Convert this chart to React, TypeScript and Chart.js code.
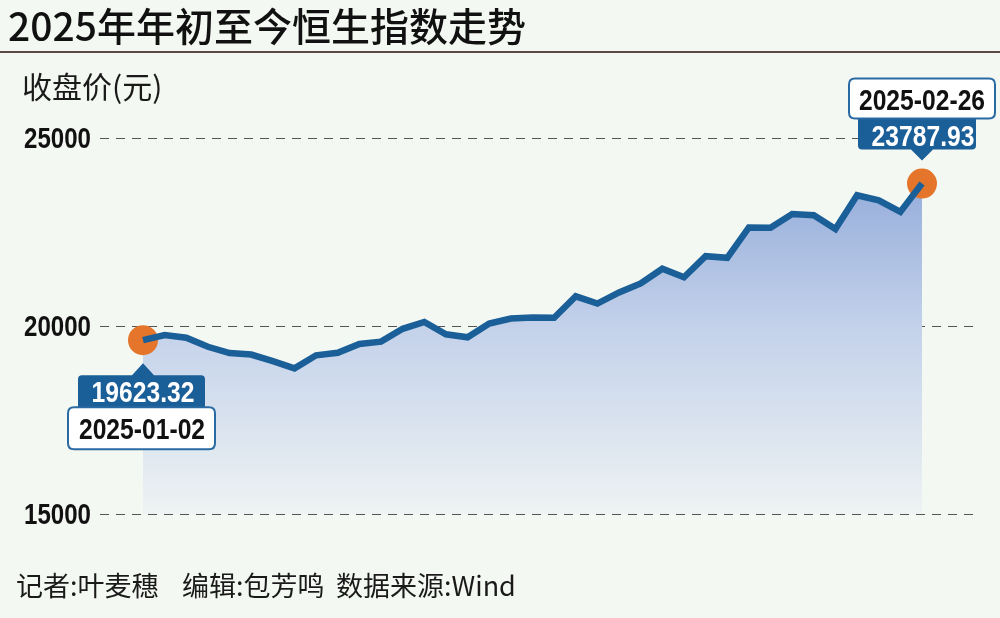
import React, { useEffect, useRef } from "react";
import { Chart, registerables } from "chart.js";

Chart.register(...registerables);

const dates = [
  "2025-01-02", "2025-01-03", "2025-01-06", "2025-01-07", "2025-01-08", "2025-01-09", "2025-01-10",
  "2025-01-13", "2025-01-14", "2025-01-15", "2025-01-16", "2025-01-17",
  "2025-01-20", "2025-01-21", "2025-01-22", "2025-01-23", "2025-01-24",
  "2025-01-27", "2025-01-28",
  "2025-02-03", "2025-02-04", "2025-02-05", "2025-02-06", "2025-02-07",
  "2025-02-10", "2025-02-11", "2025-02-12", "2025-02-13", "2025-02-14",
  "2025-02-17", "2025-02-18", "2025-02-19", "2025-02-20", "2025-02-21",
  "2025-02-24", "2025-02-25", "2025-02-26",
];

const closes = [
  19623.32, 19760.27, 19688.29, 19447.58, 19279.84, 19240.89, 19064.29,
  18874.14, 19219.78, 19286.07, 19522.89, 19584.06,
  19925.81, 20106.55, 19778.77, 19700.56, 20066.19,
  20197.77, 20225.11,
  20217.26, 20789.96, 20597.09, 20891.62, 21133.54,
  21521.98, 21294.86, 21857.92, 21814.37, 22620.33,
  22616.23, 22976.81, 22944.24, 22576.98, 23477.92,
  23341.61, 23034.02, 23787.93,
];

const yTicks = [15000, 20000, 25000];
const titleText = "2025年年初至今恒生指数走势";
const yAxisTitle = "收盘价(元)";
const footerParts = ["记者:叶麦穗", "编辑:包芳鸣", "数据来源:Wind"];

const CJK = '"Noto Sans CJK SC", "Noto Sans", sans-serif';
const NUM = '"Liberation Sans", Arial, sans-serif';
const BG = "#f4f8f2";
const BLUE = "#1b5f98";
const ORANGE = "#e4752b";
const NARROW = 0.85;

function roundRectPath(c: CanvasRenderingContext2D, x: number, y: number, w: number, h: number, r: number) {
  c.beginPath();
  c.moveTo(x + r, y);
  c.lineTo(x + w - r, y);
  c.quadraticCurveTo(x + w, y, x + w, y + r);
  c.lineTo(x + w, y + h - r);
  c.quadraticCurveTo(x + w, y + h, x + w - r, y + h);
  c.lineTo(x + r, y + h);
  c.quadraticCurveTo(x, y + h, x, y + h - r);
  c.lineTo(x, y + r);
  c.quadraticCurveTo(x, y, x + r, y);
  c.closePath();
}

function narrowText(c: CanvasRenderingContext2D, text: string, x: number, y: number, align: CanvasTextAlign, sx = NARROW) {
  c.save();
  c.translate(x, y);
  c.scale(sx, 1);
  c.textAlign = align;
  c.fillText(text, 0, 0);
  c.restore();
}

const decorPlugin = {
  id: "decor",
  beforeDraw(chart: any) {
    const c: CanvasRenderingContext2D = chart.ctx;
    const yScale = chart.scales.y;
    c.save();
    c.fillStyle = BG;
    c.fillRect(0, 0, chart.width, chart.height);

    // title
    c.fillStyle = "#111";
    c.textBaseline = "alphabetic";
    c.textAlign = "left";
    c.font = `500 39px ${CJK}`;
    c.fillText(titleText, 8, 41);
    c.fillStyle = "#5a4a45";
    c.fillRect(0, 51, chart.width, 2);

    // y axis title
    c.fillStyle = "#1a1a1a";
    c.font = `400 30px ${CJK}`;
    c.fillText(yAxisTitle, 22, 98);

    // grid lines & tick labels
    c.strokeStyle = "#555";
    c.lineWidth = 1;
    c.setLineDash([9, 7]);
    c.font = `bold 29px ${NUM}`;
    c.textBaseline = "middle";
    yTicks.forEach((v) => {
      const py = Math.round(yScale.getPixelForValue(v)) + 0.5;
      c.beginPath();
      c.moveTo(100, py);
      c.lineTo(976, py);
      c.stroke();
      c.fillStyle = "#111";
      narrowText(c, String(v), 91, py + 1, "right", 0.83);
    });
    c.setLineDash([]);

    // footer
    c.fillStyle = "#1a1a1a";
    c.textAlign = "left";
    c.textBaseline = "alphabetic";
    c.font = `400 27px ${CJK}`;
    const fx = [16, 182, 336];
    footerParts.forEach((t, i) => c.fillText(t, fx[i], 596));
    c.restore();
  },
  beforeDatasetsDraw(chart: any) {
    const c: CanvasRenderingContext2D = chart.ctx;
    const meta = chart.getDatasetMeta(0);
    const pts = [meta.data[0], meta.data[meta.data.length - 1]];
    c.save();
    c.fillStyle = ORANGE;
    pts.forEach((p: any) => {
      c.beginPath();
      c.arc(p.x, p.y, 15, 0, Math.PI * 2);
      c.fill();
    });
    c.restore();
  },
  afterDatasetsDraw(chart: any) {
    const c: CanvasRenderingContext2D = chart.ctx;
    const meta = chart.getDatasetMeta(0);
    const first = meta.data[0];
    const last = meta.data[meta.data.length - 1];
    const n = closes.length;
    c.save();
    c.textBaseline = "alphabetic";
    c.font = `bold 29px ${NUM}`;

    // end annotation (above)
    {
      const px = last.x, py = last.y;
      const bx = px - 64, bw = 118, by = py - 66, bh = 32;
      c.fillStyle = BLUE;
      c.beginPath();
      c.moveTo(bx, by);
      c.lineTo(bx + bw, by);
      c.lineTo(bx + bw, by + bh - 4);
      c.quadraticCurveTo(bx + bw, by + bh, bx + bw - 4, by + bh);
      c.lineTo(px + 11, by + bh);
      c.lineTo(px, by + bh + 11);
      c.lineTo(px - 11, by + bh);
      c.lineTo(bx + 4, by + bh);
      c.quadraticCurveTo(bx, by + bh, bx, by + bh - 4);
      c.closePath();
      c.fill();
      c.fillStyle = "#ffffff";
      narrowText(c, closes[n - 1].toFixed(2), px + 1, by + bh - 4, "center");

      const wx = px - 73, ww = 146, wy = py - 105, wh = 40;
      roundRectPath(c, wx, wy, ww, wh, 6);
      c.fillStyle = "#ffffff";
      c.fill();
      c.strokeStyle = "#2a6aa3";
      c.lineWidth = 2;
      c.stroke();
      c.fillStyle = "#111";
      narrowText(c, dates[n - 1], px, wy + 31, "center");
    }

    // start annotation (below)
    {
      const px = first.x, py = first.y;
      const bx = px - 65, bw = 127, by = py + 35, bh = 32;
      c.fillStyle = BLUE;
      c.beginPath();
      c.moveTo(bx + 4, by);
      c.lineTo(px - 11, by);
      c.lineTo(px, by - 12);
      c.lineTo(px + 11, by);
      c.lineTo(bx + bw - 4, by);
      c.quadraticCurveTo(bx + bw, by, bx + bw, by + 4);
      c.lineTo(bx + bw, by + bh);
      c.lineTo(bx, by + bh);
      c.lineTo(bx, by + 4);
      c.quadraticCurveTo(bx, by, bx + 4, by);
      c.closePath();
      c.fill();
      c.fillStyle = "#ffffff";
      narrowText(c, closes[0].toFixed(2), px, by + bh - 5, "center");

      const wx = px - 75, ww = 147, wy = by + bh, wh = 42;
      roundRectPath(c, wx, wy, ww, wh, 6);
      c.fillStyle = "#ffffff";
      c.fill();
      c.strokeStyle = "#2a6aa3";
      c.lineWidth = 2;
      c.stroke();
      c.fillStyle = "#111";
      narrowText(c, dates[0], px - 1, wy + 32, "center");
    }
    c.restore();
  },
};

export default function App() {
  const ref = useRef<HTMLCanvasElement | null>(null);
  useEffect(() => {
    document.body.style.margin = "0";
    if (!ref.current) return;
    const chart = new Chart(ref.current, {
      type: "line",
      data: {
        labels: dates,
        datasets: [
          {
            data: closes,
            borderColor: BLUE,
            borderWidth: 6.5,
            pointRadius: 0,
            tension: 0,
            fill: "start",
            backgroundColor: (ctx: any) => {
              const ch = ctx.chart;
              const ca = ch.chartArea;
              if (!ca) return "rgba(140,165,215,0.5)";
              const g = ch.ctx.createLinearGradient(0, ca.top, 0, ca.bottom);
              g.addColorStop(0, "#88a3d6");
              g.addColorStop(0.5, "#c3d1ea");
              g.addColorStop(1, "#eef3f3");
              return g;
            },
          },
        ],
      },
      options: {
        responsive: false,
        animation: false,
        devicePixelRatio: 1,
        layout: { padding: { left: 143, right: 78, top: 138, bottom: 104 } },
        scales: {
          x: { type: "category", display: false, offset: false },
          y: { display: false, min: 15000, max: 25000 },
        },
        plugins: {
          legend: { display: false },
          tooltip: { enabled: false },
          filler: { drawTime: "beforeDatasetsDraw" },
        },
      } as any,
      plugins: [decorPlugin as any],
    });
    return () => chart.destroy();
  }, []);
  return (
    <div style={{ position: "fixed", left: 0, top: 0, width: 1000, height: 618 }}>
      <canvas ref={ref} width={1000} height={618} style={{ display: "block", width: 1000, height: 618 }} />
    </div>
  );
}
